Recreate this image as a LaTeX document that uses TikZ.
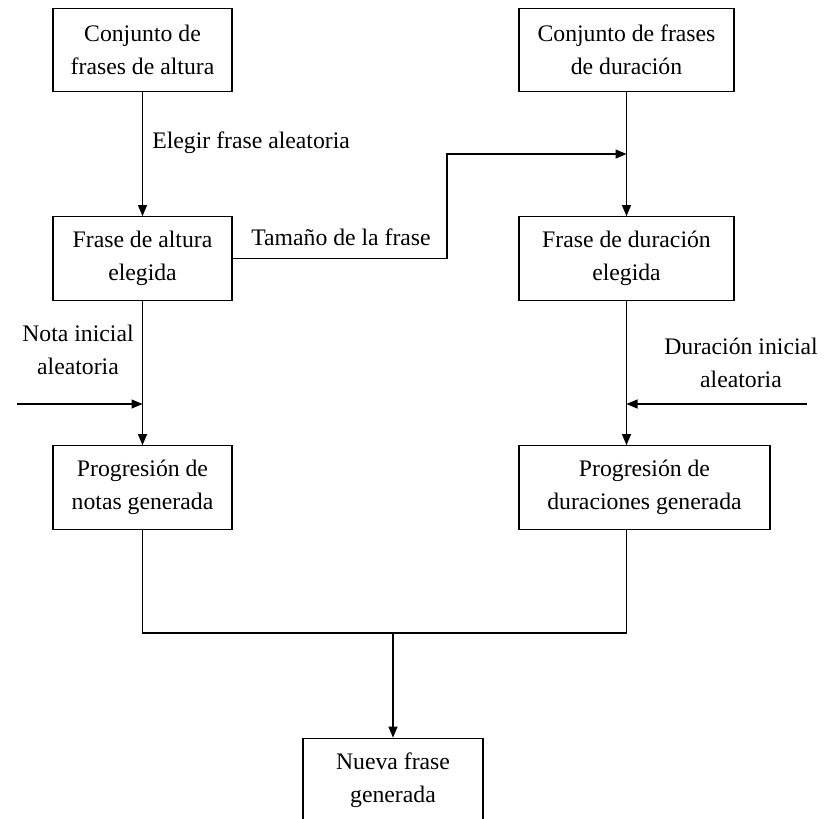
\documentclass[tikz,border=0pt]{standalone}
\usepackage{fontspec}
\setmainfont{Liberation Serif}
\usepackage{tikz}
\usetikzlibrary{arrows.meta}
\tikzstyle{block} = [rectangle, 
minimum height=1.67cm, 
text centered, 
align=center, 
draw=black, 
line width=0.7pt]
\tikzstyle{note} = [align=center, 
inner sep=0pt]
\tikzstyle{line} = [line width=0.7pt]
\tikzstyle{arrow} = [line width=0.7pt,-{Triangle[length=0.22cm,width=0.18cm]}]

\begin{document}
\begin{tikzpicture}[x=0.02cm, y=-0.02cm, font=\fontsize{13.5}{18.8}\selectfont]
\useasboundingbox (0,0) rectangle (833,819);

\node (altura) [block, minimum width=3.58cm] at (142.5,50) {Conjunto de\\frases de altura};
\node (duracion) [block, minimum width=4.3cm] at (626.5,50) {Conjunto de frases\\de duración};
\node (altelegida) [block, minimum width=3.58cm] at (142.5,258.5) {Frase de altura\\elegida};
\node (durelegida) [block, minimum width=4.3cm] at (626.5,258.5) {Frase de duración\\elegida};
\node (notas) [block, minimum width=3.58cm] at (142.5,487.5) {Progresión de\\notas generada};
\node (duraciones) [block, minimum width=5.02cm] at (644.5,487.5) {Progresión de\\duraciones generada};
\node (nueva) [block, minimum width=3.6cm] at (393,780) {Nueva frase\\generada};

% etiquetas
\node (elegir) [note, anchor=west] at (152,143) {Elegir frase aleatoria};
\node (tamano) [note] at (341,237) {Tamaño de la frase};
\node (notaini) [note] at (78,350) {Nota inicial\\aleatoria};
\node (durini) [note] at (741,363) {Duración inicial\\aleatoria};

\coordinate (codo) at (447,154);
\coordinate (notain) at (17,404);
\coordinate (durin) at (807,404);
\coordinate (union) at (393,633);

\draw [arrow] (altura) -- (altelegida);
\draw [arrow] (duracion) -- (durelegida);
\draw [arrow] (altelegida.east) -| (codo) -- (codo -| durelegida.north);
\draw [arrow] (altelegida) -- (notas);
\draw [arrow] (durelegida.south) -- (durelegida.south |- duraciones.north);
\draw [arrow] (notain) -- (notain -| altelegida.south);
\draw [arrow] (durin) -- (durin -| durelegida.south);
\draw [line] (notas.south) -- (notas.south |- union) -- (durelegida.south |- union) -- (durelegida.south |- duraciones.south);
\draw [arrow] (union) -- (nueva);

\end{tikzpicture}
\end{document}
